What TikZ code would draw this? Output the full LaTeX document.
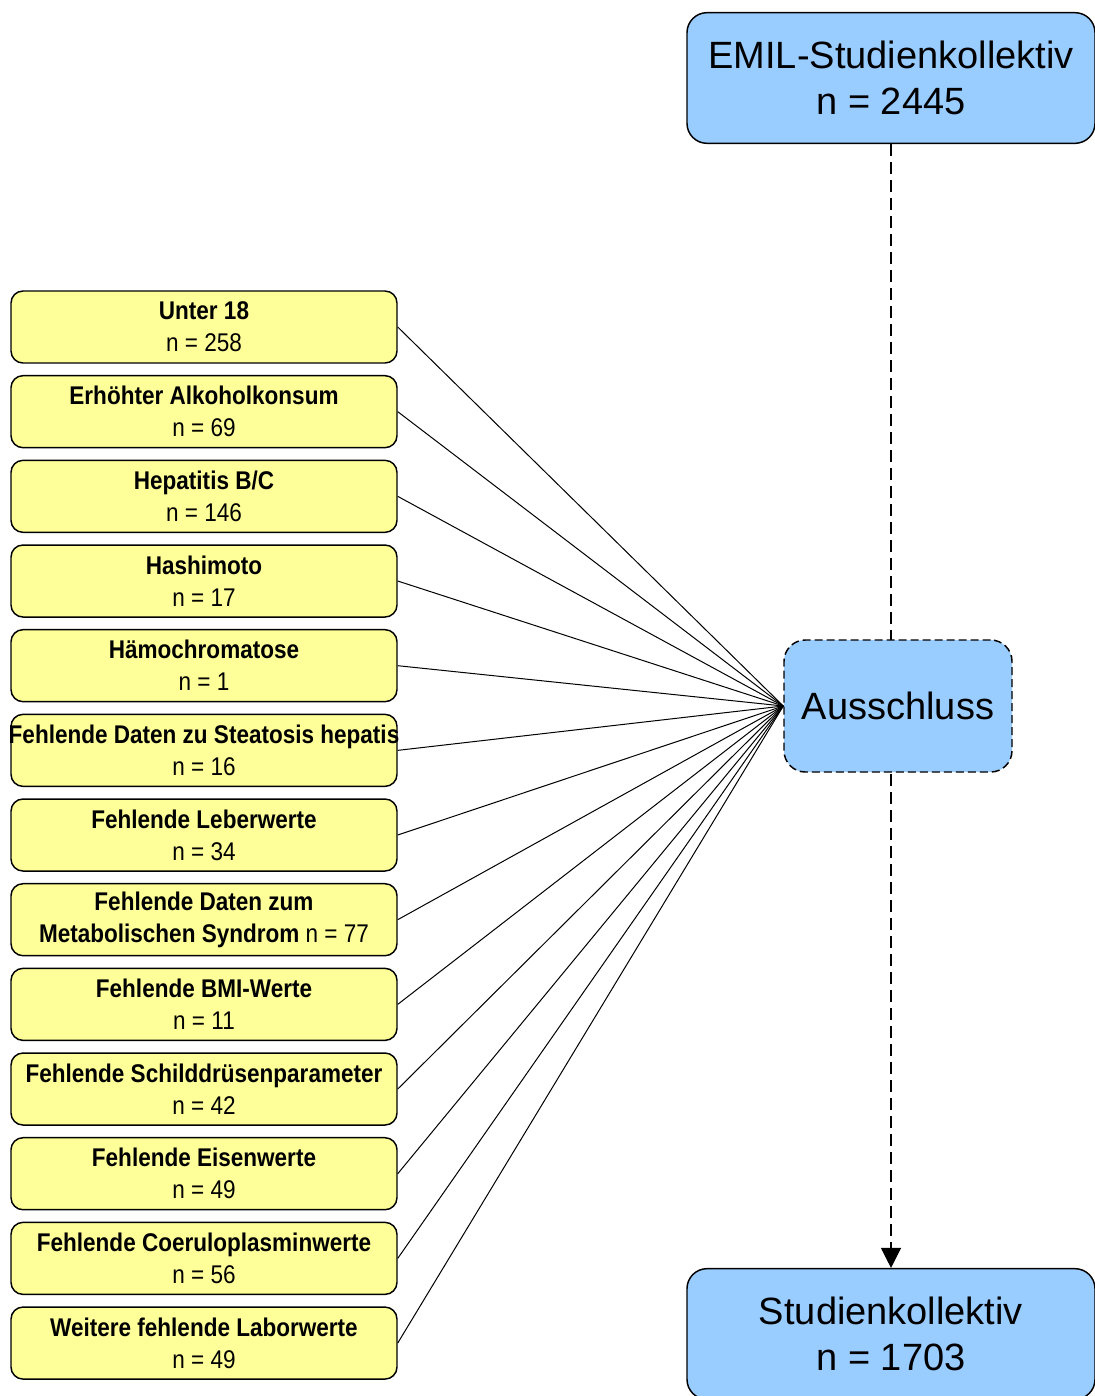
\documentclass[tikz,border=0pt]{standalone}
\usepackage{fontspec}
\setmainfont{Liberation Sans}
\newfontfamily\narrowfont[FakeStretch=0.88]{Liberation Sans}
\usetikzlibrary{arrows.meta,positioning,calc}
\definecolor{kollblau}{RGB}{153,204,255}
\definecolor{grundgelb}{RGB}{255,255,153}

\begin{document}
\begin{tikzpicture}[x=0.75pt,y=-0.75pt,
    kollektiv/.style={draw,line width=1.1pt,fill=kollblau,rounded corners=15pt,
        minimum width=306pt,minimum height=98pt,align=center,
        font=\fontsize{28.5}{34.5}\selectfont},
    grund/.style={draw,line width=1.1pt,fill=grundgelb,rounded corners=9pt,
        minimum width=289.5pt,minimum height=54pt,align=center,inner sep=0pt,
        font=\narrowfont\fontsize{19.2}{24}\selectfont},
    strich/.style={line width=0.9pt,dash pattern=on 9pt off 4.5pt}]
    \useasboundingbox (0,0) rectangle (1095,1396);
    % Kollektive
    \node[kollektiv] (emil) at (891,78) {EMIL-Studienkollektiv\\n = 2445};
    \node[kollektiv] (studie) at (891,1334) {Studienkollektiv\\n = 1703};
    \draw[strich,-{Triangle[length=15pt,width=15pt]}] (emil.south) -- (studie.north);
    \node[kollektiv,dash pattern=on 6pt off 3pt,minimum width=171pt,minimum height=99pt,
        rounded corners=16pt] (aus) at (898,706) {Ausschluss};
    % Ausschlussgruende
    \foreach \ttl/\sub [count=\i] in {
        Unter 18/n = 258,
        Erhöhter Alkoholkonsum/n = 69,
        {Hepatitis B/C}/n = 146,
        Hashimoto/n = 17,
        Hämochromatose/n = 1,
        Fehlende Daten zu Steatosis hepatis/n = 16,
        Fehlende Leberwerte/n = 34,
        Fehlende Daten zum/{\bfseries Metabolischen Syndrom} n = 77,
        Fehlende BMI-Werte/n = 11,
        Fehlende Schilddrüsenparameter/n = 42,
        Fehlende Eisenwerte/n = 49,
        Fehlende Coeruloplasminwerte/n = 56,
        Weitere fehlende Laborwerte/n = 49}{
        \node[grund] (grund\i) at (204,{327+84.67*(\i-1)})
            {\makebox[280pt]{\bfseries\ttl}\\\makebox[280pt]{\sub}};
        \draw[line width=0.75pt] (grund\i.east) -- (aus.west);
    }
\end{tikzpicture}
\end{document}
